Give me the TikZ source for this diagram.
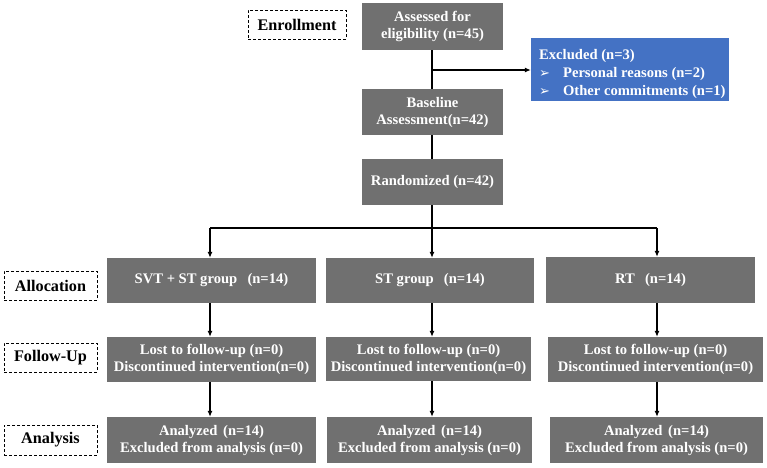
\documentclass[tikz,border=0pt]{standalone}
\usepackage{fontspec}
\setmainfont{Liberation Serif}
\newfontfamily\dejavu{DejaVu Sans}
\usetikzlibrary{arrows.meta}
\definecolor{boxgray}{RGB}{112,112,112}
\definecolor{boxblue}{RGB}{68,114,196}
\newcommand{\arrbullet}{{\dejavu\mdseries\fontsize{13}{18}\selectfont ➢}\hspace{13pt}}
\begin{document}
\begin{tikzpicture}[x=1pt,y=-1pt,
  gbox/.style={fill=boxgray, text=white, font=\bfseries\fontsize{14.6}{17}\selectfont, align=center, inner sep=0pt, anchor=center},
  lbl/.style={draw=black, dash pattern=on 3pt off 2pt, line width=0.9pt, fill=white, font=\bfseries\fontsize{16.2}{18}\selectfont, inner sep=0pt, minimum width=93pt, minimum height=29pt, anchor=center},
  conn/.style={line width=1.1pt, black},
  arr/.style={conn, -{Latex[length=6pt,width=5pt]}}]
\useasboundingbox (0,0) rectangle (767,467);
% enrollment stage
\node[lbl, minimum width=98pt] (enr) at (297,24.5) {Enrollment};
\node[gbox, minimum width=141pt, minimum height=47pt] (assess) at (432.5,26.5) {Assessed for\\eligibility (n=45)};
\node[gbox, minimum width=141pt, minimum height=46pt] (base) at (432.5,112) {Baseline\\Assessment(n=42)};
\node[gbox, minimum width=141pt, minimum height=46pt] (rand) at (432.5,182) {Randomized (n=42)};
\node[fill=boxblue, inner sep=0pt, minimum width=198pt, minimum height=63pt, anchor=center] (excl) at (630,69.5) {};
\node[text=white, font=\bfseries\fontsize{14.6}{18}\selectfont, align=left, inner sep=0pt, anchor=north west] (excltxt) at (539,49.5)
  {Excluded (n=3)\\\arrbullet Personal reasons (n=2)\\\arrbullet Other commitments (n=1)};
% stage labels
\node[lbl] (alloc) at (50.5,285.5) {Allocation};
\node[lbl] (follow) at (50.5,357.5) {Follow-Up};
\node[lbl, minimum height=30pt] (anal) at (50.5,440) {Analysis};
% allocation row
\node[gbox, minimum width=209pt, minimum height=45pt] (a1) at (211.5,280.5) {SVT + ST group\hspace{0.7em}(n=14)};
\node[gbox, minimum width=208pt, minimum height=45pt] (a2) at (430,280.5) {ST group\hspace{0.7em}(n=14)};
\node[gbox, minimum width=209pt, minimum height=46pt] (a3) at (650.5,280) {RT\hspace{0.7em}(n=14)};
% follow-up row
\node[gbox, minimum width=209pt, minimum height=45pt] (f1) at (211.5,359.5) {Lost to follow-up (n=0)\\Discontinued intervention(n=0)};
\node[gbox, minimum width=205pt, minimum height=44pt] (f2) at (428.5,359) {Lost to follow-up (n=0)\\Discontinued intervention(n=0)};
\node[gbox, minimum width=215pt, minimum height=45pt] (f3) at (655.5,359.5) {Lost to follow-up (n=0)\\Discontinued intervention(n=0)};
% analysis row
\node[gbox, minimum width=209pt, minimum height=46pt] (n1) at (211.5,440) {Analyzed\hspace{0.4em}(n=14)\\Excluded from analysis (n=0)};
\node[gbox, minimum width=205pt, minimum height=46pt] (n2) at (429.5,440) {Analyzed\hspace{0.4em}(n=14)\\Excluded from analysis (n=0)};
\node[gbox, minimum width=213pt, minimum height=46pt] (n3) at (656.5,440) {Analyzed\hspace{0.4em}(n=14)\\Excluded from analysis (n=0)};
% connectors
\coordinate (split) at (432,70);
\coordinate (colL) at (210,228);
\coordinate (colM) at (432,228);
\coordinate (colR) at (657,228);
\draw[conn] (assess.south -| split) -- (base.north -| split);
\draw[arr] (split) -- (excl.west |- split);
\draw[conn] (base.south -| split) -- (rand.north -| split);
\draw[conn] (rand.south -| colM) -- (colM);
\draw[conn] (colL) -- (colR);
\draw[arr] (colL) -- (a1.north -| colL);
\draw[arr] (colM) -- (a2.north -| colM);
\draw[arr] (colR) -- (a3.north -| colR);
\draw[arr] (a1.south -| colL) -- (f1.north -| colL);
\draw[arr] (a2.south -| colM) -- (f2.north -| colM);
\draw[arr] (a3.south -| colR) -- (f3.north -| colR);
\draw[arr] (f1.south -| colL) -- (n1.north -| colL);
\draw[arr] (f2.south -| colM) -- (n2.north -| colM);
\draw[arr] (f3.south -| colR) -- (n3.north -| colR);
\end{tikzpicture}
\end{document}
